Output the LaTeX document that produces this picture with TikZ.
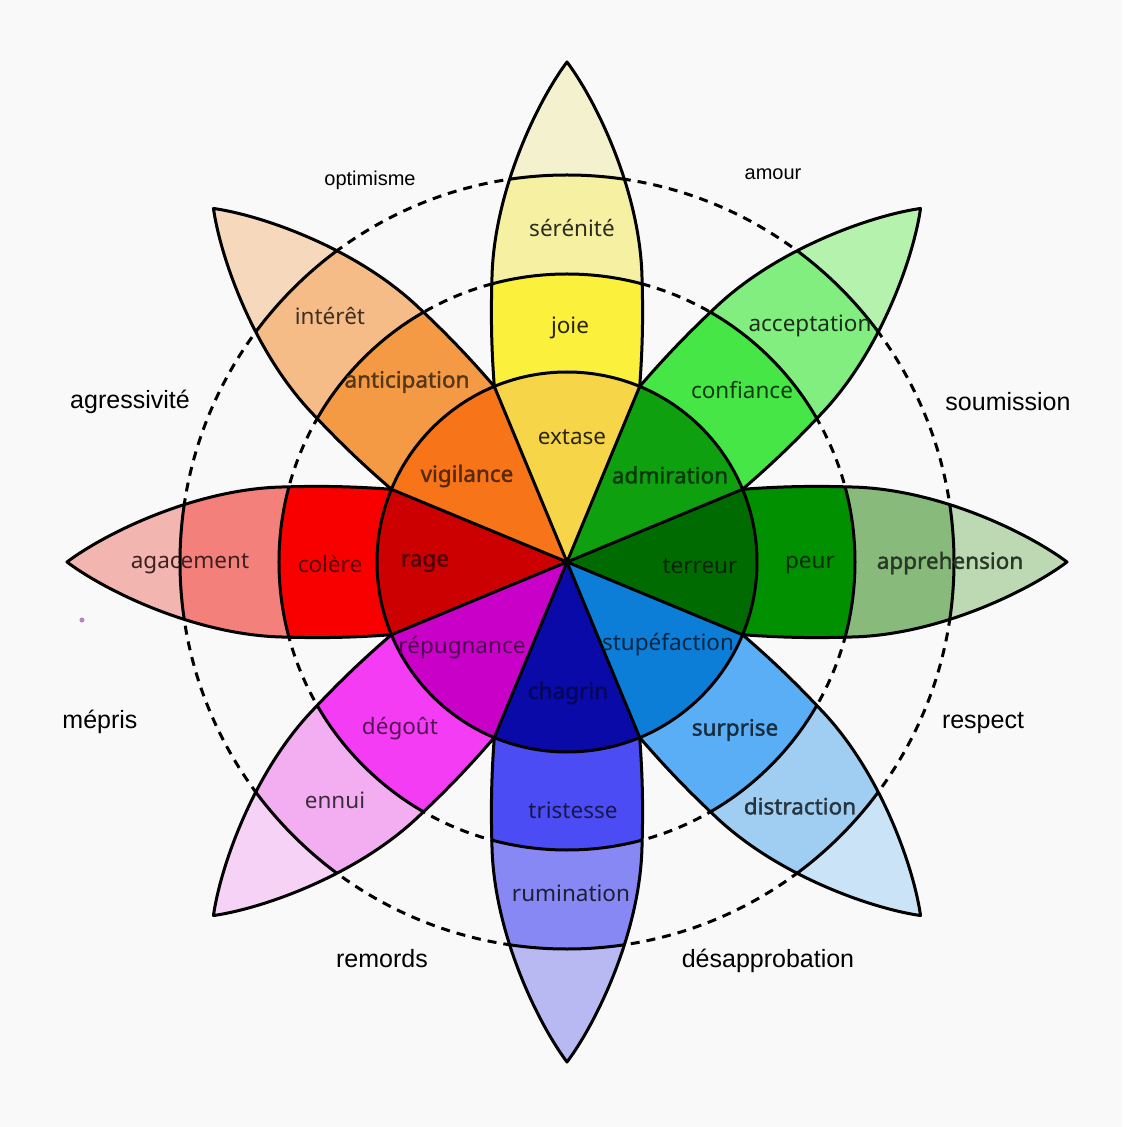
\documentclass[tikz,border=0pt]{standalone}
\usepackage{fontspec}
\newfontfamily\petalfont{Noto Sans}
\newfontfamily\petalbold[FakeBold=1.6]{Noto Sans}
\newfontfamily\outerfont{Liberation Sans}
\definecolor{fond}{HTML}{F9F9F9}
\definecolor{jaune0}{HTML}{F6D548}\definecolor{jaune1}{HTML}{FBF03C}\definecolor{jaune2}{HTML}{F6F1A2}\definecolor{jaune3}{HTML}{F4F2CE}
\definecolor{vert0}{HTML}{0EA00E}\definecolor{vert1}{HTML}{46E646}\definecolor{vert2}{HTML}{82EE80}\definecolor{vert3}{HTML}{B5F2AE}
\definecolor{vertf0}{HTML}{006B00}\definecolor{vertf1}{HTML}{009000}\definecolor{vertf2}{HTML}{88BA7C}\definecolor{vertf3}{HTML}{BDD9B3}
\definecolor{bleu0}{HTML}{0C7ED8}\definecolor{bleu1}{HTML}{5AAEF5}\definecolor{bleu2}{HTML}{A0CEF3}\definecolor{bleu3}{HTML}{CBE3F7}
\definecolor{bleuf0}{HTML}{0A0AA8}\definecolor{bleuf1}{HTML}{4C4CF5}\definecolor{bleuf2}{HTML}{8888F5}\definecolor{bleuf3}{HTML}{B8B8F3}
\definecolor{violet0}{HTML}{C800C8}\definecolor{violet1}{HTML}{F43CF4}\definecolor{violet2}{HTML}{F2AEF0}\definecolor{violet3}{HTML}{F6D2F6}
\definecolor{rouge0}{HTML}{CC0000}\definecolor{rouge1}{HTML}{F80000}\definecolor{rouge2}{HTML}{F3807A}\definecolor{rouge3}{HTML}{F3B5B0}
\definecolor{orange0}{HTML}{F87418}\definecolor{orange1}{HTML}{F49A44}\definecolor{orange2}{HTML}{F5BC88}\definecolor{orange3}{HTML}{F6D8BC}
\newcommand{\petalpath}{(-22.5:190) .. controls (220,-76) and (252,-76) .. (285,-75) .. controls (370,-73) and (460,-30) .. (500,0) .. controls (460,30) and (370,73) .. (285,75) .. controls (252,76) and (220,76) .. (22.5:190)}
\begin{document}
\begin{tikzpicture}[x=1pt,y=1pt,
trait/.style={line width=3pt,line join=round},
pointille/.style={line width=3pt,dash pattern=on 9pt off 7pt},
etiq/.style={font=\petalfont\fontsize{22.5}{26}\selectfont},
etiqg/.style={font=\petalbold\fontsize{22.5}{26}\selectfont},
ext/.style={font=\outerfont\fontsize{25}{28}\selectfont}]
\fill[fond] (-567,-565) rectangle (555,562);
\useasboundingbox (-567,-565) rectangle (555,562);
% cercles en pointille
\draw[pointille] (0,0) circle (288) (0,0) circle (387);
% petales
\foreach \ang/\c in {90/jaune,45/vert,0/vertf,-45/bleu,-90/bleuf,-135/violet,180/rouge,135/orange}{
\begin{scope}[rotate=\ang]
\begin{scope}
\clip \petalpath -- cycle;
\fill[\c3] (0,0) circle (510);
\fill[\c2] (0,0) circle (387);
\fill[\c1] (0,0) circle (288);
\draw[trait] (0,0) circle (387) (0,0) circle (288);
\end{scope}
\draw[trait] \petalpath;
\fill[\c0] (0,0) -- (-22.5:190) arc (-22.5:22.5:190) -- cycle;
\end{scope}
}
\draw[trait] (0,0) circle (190);
\foreach \a in {22.5,67.5,...,337.5} \draw[trait] (0,0) -- (\a:190);
\fill[violet!50] (-485,-58) circle (2.5);
% etiquettes
\node[etiq,text=jaune2!18!black] (serenite) at (5,334) {sérénité};
\node[etiq,text=jaune1!15!black] (joie) at (3,234) {joie};
\node[etiq,text=jaune0!18!black] (extase) at (5,125) {extase};
\node[etiq,text=vert2!20!black] (acceptation) at (243,236) {acceptation};
\node[etiq,text=vert1!25!black] (confiance) at (175,172) {confiance};
\node[etiqg,text=vert0!35!black] (admiration) at (103,87) {admiration};
\node[etiqg,text=vertf2!30!black] (apprehension) at (383,-1) {apprehension};
\node[etiq,text=vertf1!30!black] (peur) at (243,-3) {peur};
\node[etiq,text=vertf0!35!black] (terreur) at (133,-4) {terreur};
\node[etiqg,text=bleu2!25!black] (distraction) at (233,-244) {distraction};
\node[etiqg,text=bleu1!25!black] (surprise) at (168,-168) {surprise};
\node[etiq,text=bleu0!30!black] (stupefaction) at (101,-83) {stupéfaction};
\node[etiq,text=bleuf2!22!black] (rumination) at (4,-331) {rumination};
\node[etiq,text=bleuf1!30!black] (tristesse) at (6,-248) {tristesse};
\node[etiqg,text=bleuf0!55!black] (chagrin) at (1,-131) {chagrin};
\node[etiq,text=violet2!25!black] (ennui) at (-232,-238) {ennui};
\node[etiq,text=violet1!35!black] (degout) at (-167,-167) {dégoût};
\node[etiq,text=violet0!40!black] (repugnance) at (-105,-86) {répugnance};
\node[etiq,text=rouge2!25!black] (agacement) at (-377,-2) {agacement};
\node[etiq,text=rouge1!35!black] (colere) at (-237,-2) {colère};
\node[etiqg,text=rouge0!40!black] (rage) at (-142,-1) {rage};
\node[etiq,text=orange2!25!black] (interet) at (-237,246) {intérêt};
\node[etiqg,text=orange1!35!black] (anticipation) at (-160,180) {anticipation};
\node[etiqg,text=orange0!35!black] (vigilance) at (-100,86) {vigilance};
% dyades
\node[ext,font=\outerfont\fontsize{20}{24}\selectfont] (optimisme) at (-197,382) {optimisme};
\node[ext,font=\outerfont\fontsize{20}{24}\selectfont] (amour) at (206,388) {amour};
\node[ext] (soumission) at (441,160) {soumission};
\node[ext] (respect) at (416,-161) {respect};
\node[ext] (desapprobation) at (201,-399) {désapprobation};
\node[ext] (remords) at (-185,-397) {remords};
\node[ext] (mepris) at (-467,-160) {mépris};
\node[ext] (agressivite) at (-437,160) {agressivité};
\end{tikzpicture}
\end{document}
